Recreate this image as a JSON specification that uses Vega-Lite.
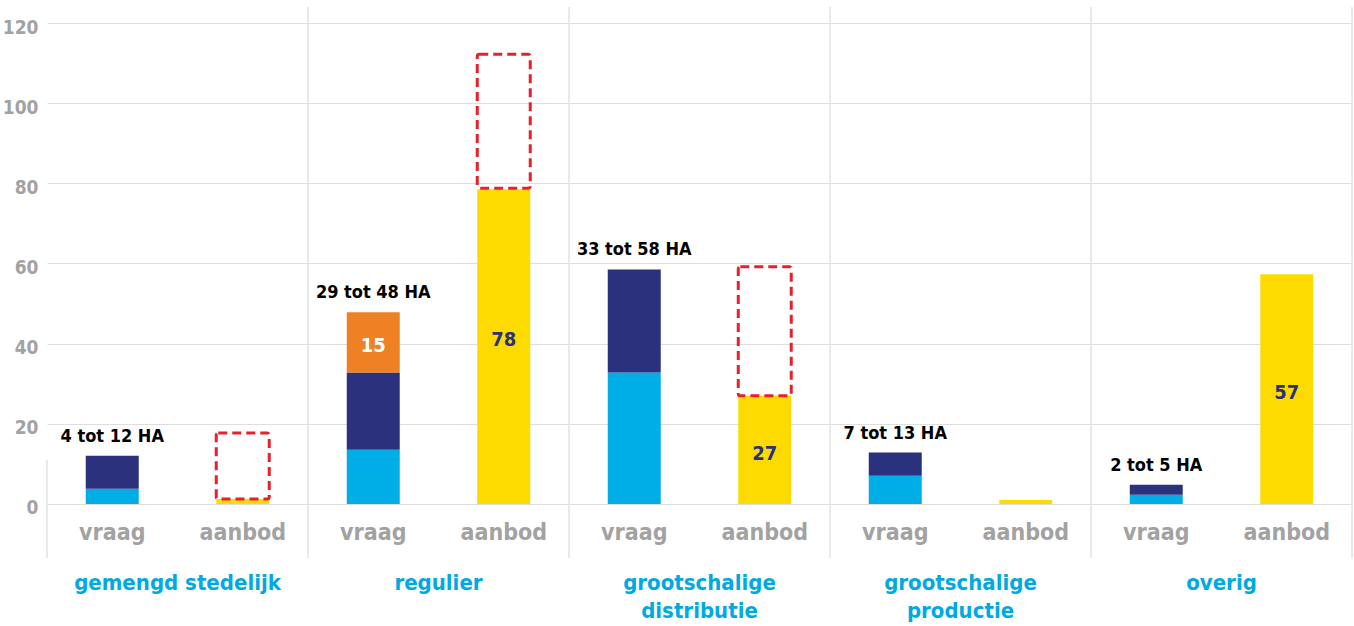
{
  "$schema": "https://vega.github.io/schema/vega-lite/v6.json",
  "width": 1305,
  "height": 551,
  "autosize": {"type": "none"},
  "padding": {"left": 47, "top": 7, "right": 2, "bottom": 68},
  "config": {
    "view": {"stroke": null},
    "font": "DejaVu Sans Condensed, DejaVu Sans"
  },
  "datasets": {
    "groups": [
      {"group": "gemengd stedelijk", "label": ["gemengd stedelijk"]},
      {"group": "regulier", "label": ["regulier"]},
      {"group": "grootschalige distributie", "label": ["grootschalige", "distributie"]},
      {"group": "grootschalige productie", "label": ["grootschalige", "productie"]},
      {"group": "overig", "label": ["overig"]}
    ],
    "bars": [
      {"group": "gemengd stedelijk", "type": "vraag", "part": "min", "start": 0, "end": 3.8},
      {"group": "gemengd stedelijk", "type": "vraag", "part": "max", "start": 3.8, "end": 12},
      {"group": "gemengd stedelijk", "type": "aanbod", "part": "aanbod", "start": 0, "end": 1.2},
      {"group": "regulier", "type": "vraag", "part": "min", "start": 0, "end": 13.5},
      {"group": "regulier", "type": "vraag", "part": "max", "start": 13.5, "end": 32.8},
      {"group": "regulier", "type": "vraag", "part": "extra", "start": 32.8, "end": 47.8},
      {"group": "regulier", "type": "aanbod", "part": "aanbod", "start": 0, "end": 78.5},
      {"group": "grootschalige distributie", "type": "vraag", "part": "min", "start": 0, "end": 32.8},
      {"group": "grootschalige distributie", "type": "vraag", "part": "max", "start": 32.8, "end": 58.5},
      {"group": "grootschalige distributie", "type": "aanbod", "part": "aanbod", "start": 0, "end": 27},
      {"group": "grootschalige productie", "type": "vraag", "part": "min", "start": 0, "end": 7},
      {"group": "grootschalige productie", "type": "vraag", "part": "max", "start": 7, "end": 12.8},
      {"group": "grootschalige productie", "type": "aanbod", "part": "aanbod", "start": 0, "end": 1},
      {"group": "overig", "type": "vraag", "part": "min", "start": 0, "end": 2.3},
      {"group": "overig", "type": "vraag", "part": "max", "start": 2.3, "end": 4.8},
      {"group": "overig", "type": "aanbod", "part": "aanbod", "start": 0, "end": 57.3}
    ],
    "gaps": [
      {"group": "gemengd stedelijk", "type": "aanbod", "start": 1.2, "end": 17.7},
      {"group": "regulier", "type": "aanbod", "start": 78.8, "end": 112.2},
      {"group": "grootschalige distributie", "type": "aanbod", "start": 27, "end": 59.2}
    ],
    "ranges": [
      {"group": "gemengd stedelijk", "type": "vraag", "label": "4 tot 12 HA", "top": 12},
      {"group": "regulier", "type": "vraag", "label": "29 tot 48 HA", "top": 47.8},
      {"group": "grootschalige distributie", "type": "vraag", "label": "33 tot 58 HA", "top": 58.5},
      {"group": "grootschalige productie", "type": "vraag", "label": "7 tot 13 HA", "top": 12.8},
      {"group": "overig", "type": "vraag", "label": "2 tot 5 HA", "top": 4.8}
    ],
    "inner": [
      {"group": "regulier", "type": "aanbod", "label": "78", "mid": 40.8},
      {"group": "grootschalige distributie", "type": "aanbod", "label": "27", "mid": 12.5},
      {"group": "overig", "type": "aanbod", "label": "57", "mid": 27.7}
    ],
    "ticks": [
      {"group": "gemengd stedelijk", "type": "vraag"},
      {"group": "gemengd stedelijk", "type": "aanbod"},
      {"group": "regulier", "type": "vraag"},
      {"group": "regulier", "type": "aanbod"},
      {"group": "grootschalige distributie", "type": "vraag"},
      {"group": "grootschalige distributie", "type": "aanbod"},
      {"group": "grootschalige productie", "type": "vraag"},
      {"group": "grootschalige productie", "type": "aanbod"},
      {"group": "overig", "type": "vraag"},
      {"group": "overig", "type": "aanbod"}
    ]
  },
  "encoding": {
    "x": {
      "field": "group",
      "type": "nominal",
      "sort": ["gemengd stedelijk", "regulier", "grootschalige distributie", "grootschalige productie", "overig"],
      "scale": {"paddingInner": 0, "paddingOuter": 0},
      "axis": null
    }
  },
  "layer": [
    {
      "data": {"name": "groups"},
      "transform": [{"filter": "datum.group !== 'gemengd stedelijk'"}],
      "mark": {"type": "rule", "color": "#e2e2e2", "strokeWidth": 1.5},
      "encoding": {
        "x": {"field": "group", "type": "nominal", "bandPosition": 0},
        "y": {"datum": -13.5, "type": "quantitative",
          "scale": {"domain": [-13.5, 124], "nice": false, "zero": false},
          "axis": {
            "values": [0, 20, 40, 60, 80, 100, 120],
            "title": null,
            "grid": true,
            "gridColor": "#dedede",
            "gridWidth": 1.2,
            "domain": false,
            "ticks": false,
            "labelPadding": 9,
            "labelFontSize": 19,
            "labelFontWeight": "bold",
            "labelColor": "#a2a2a2",
            "labelOffset": 4
          }
        },
        "y2": {"datum": 124}
      }
    },
    {
      "data": {"name": "groups"},
      "transform": [{"filter": "datum.group === 'gemengd stedelijk'"}],
      "mark": {"type": "rule", "color": "#e2e2e2", "strokeWidth": 1.5},
      "encoding": {
        "x": {"field": "group", "type": "nominal", "bandPosition": 0},
        "y": {"datum": -13.5, "type": "quantitative"},
        "y2": {"datum": 11}
      }
    },
    {
      "data": {"name": "groups"},
      "transform": [{"filter": "datum.group === 'overig'"}],
      "mark": {"type": "rule", "color": "#e2e2e2", "strokeWidth": 1.5},
      "encoding": {
        "x": {"field": "group", "type": "nominal", "bandPosition": 1},
        "y": {"datum": -13.5, "type": "quantitative"},
        "y2": {"datum": 124}
      }
    },
    {
      "data": {"name": "bars"},
      "mark": {"type": "bar"},
      "encoding": {
        "xOffset": {"field": "type", "type": "nominal", "sort": ["vraag", "aanbod"],
          "scale": {"paddingInner": 0.594, "paddingOuter": 0.297}},
        "y": {"field": "start", "type": "quantitative"},
        "y2": {"field": "end"},
        "color": {"field": "part", "type": "nominal",
          "scale": {"domain": ["min", "max", "extra", "aanbod"], "range": ["#00aee6", "#2b317c", "#ee8124", "#fddb00"]},
          "legend": null}
      }
    },
    {
      "data": {"name": "gaps"},
      "mark": {"type": "bar", "filled": false, "stroke": "#e8202a", "strokeWidth": 3, "strokeDash": [9, 5], "cornerRadius": 2},
      "encoding": {
        "xOffset": {"field": "type", "type": "nominal", "sort": ["vraag", "aanbod"]},
        "y": {"field": "start", "type": "quantitative"},
        "y2": {"field": "end"}
      }
    },
    {
      "data": {"name": "ranges"},
      "mark": {"type": "text", "fontSize": 18, "fontWeight": "bold", "color": "#000000", "baseline": "alphabetic", "dy": -14},
      "encoding": {
        "xOffset": {"field": "type", "type": "nominal", "sort": ["vraag", "aanbod"]},
        "y": {"field": "top", "type": "quantitative"},
        "text": {"field": "label"}
      }
    },
    {
      "data": {"name": "inner"},
      "mark": {"type": "text", "fontSize": 20, "fontWeight": "bold", "color": "#2b317c", "baseline": "middle"},
      "encoding": {
        "xOffset": {"field": "type", "type": "nominal", "sort": ["vraag", "aanbod"]},
        "y": {"field": "mid", "type": "quantitative"},
        "text": {"field": "label"}
      }
    },
    {
      "data": {"values": [{"group": "regulier", "type": "vraag", "label": "15", "mid": 39.5}]},
      "mark": {"type": "text", "fontSize": 20, "fontWeight": "bold", "color": "#ffffff", "baseline": "middle"},
      "encoding": {
        "xOffset": {"field": "type", "type": "nominal", "sort": ["vraag", "aanbod"]},
        "y": {"field": "mid", "type": "quantitative"},
        "text": {"field": "label"}
      }
    },
    {
      "data": {"name": "ticks"},
      "mark": {"type": "text", "fontSize": 23, "fontWeight": "bold", "color": "#a2a2a2", "baseline": "middle"},
      "encoding": {
        "xOffset": {"field": "type", "type": "nominal", "sort": ["vraag", "aanbod"]},
        "y": {"datum": -7.3, "type": "quantitative"},
        "text": {"field": "type"}
      }
    },
    {
      "data": {"name": "groups"},
      "mark": {"type": "text", "fontSize": 22, "fontWeight": "bold", "color": "#00a9e0", "baseline": "top", "lineHeight": 28},
      "encoding": {
        "y": {"datum": -17.2, "type": "quantitative"},
        "text": {"field": "label"}
      }
    }
  ]
}
